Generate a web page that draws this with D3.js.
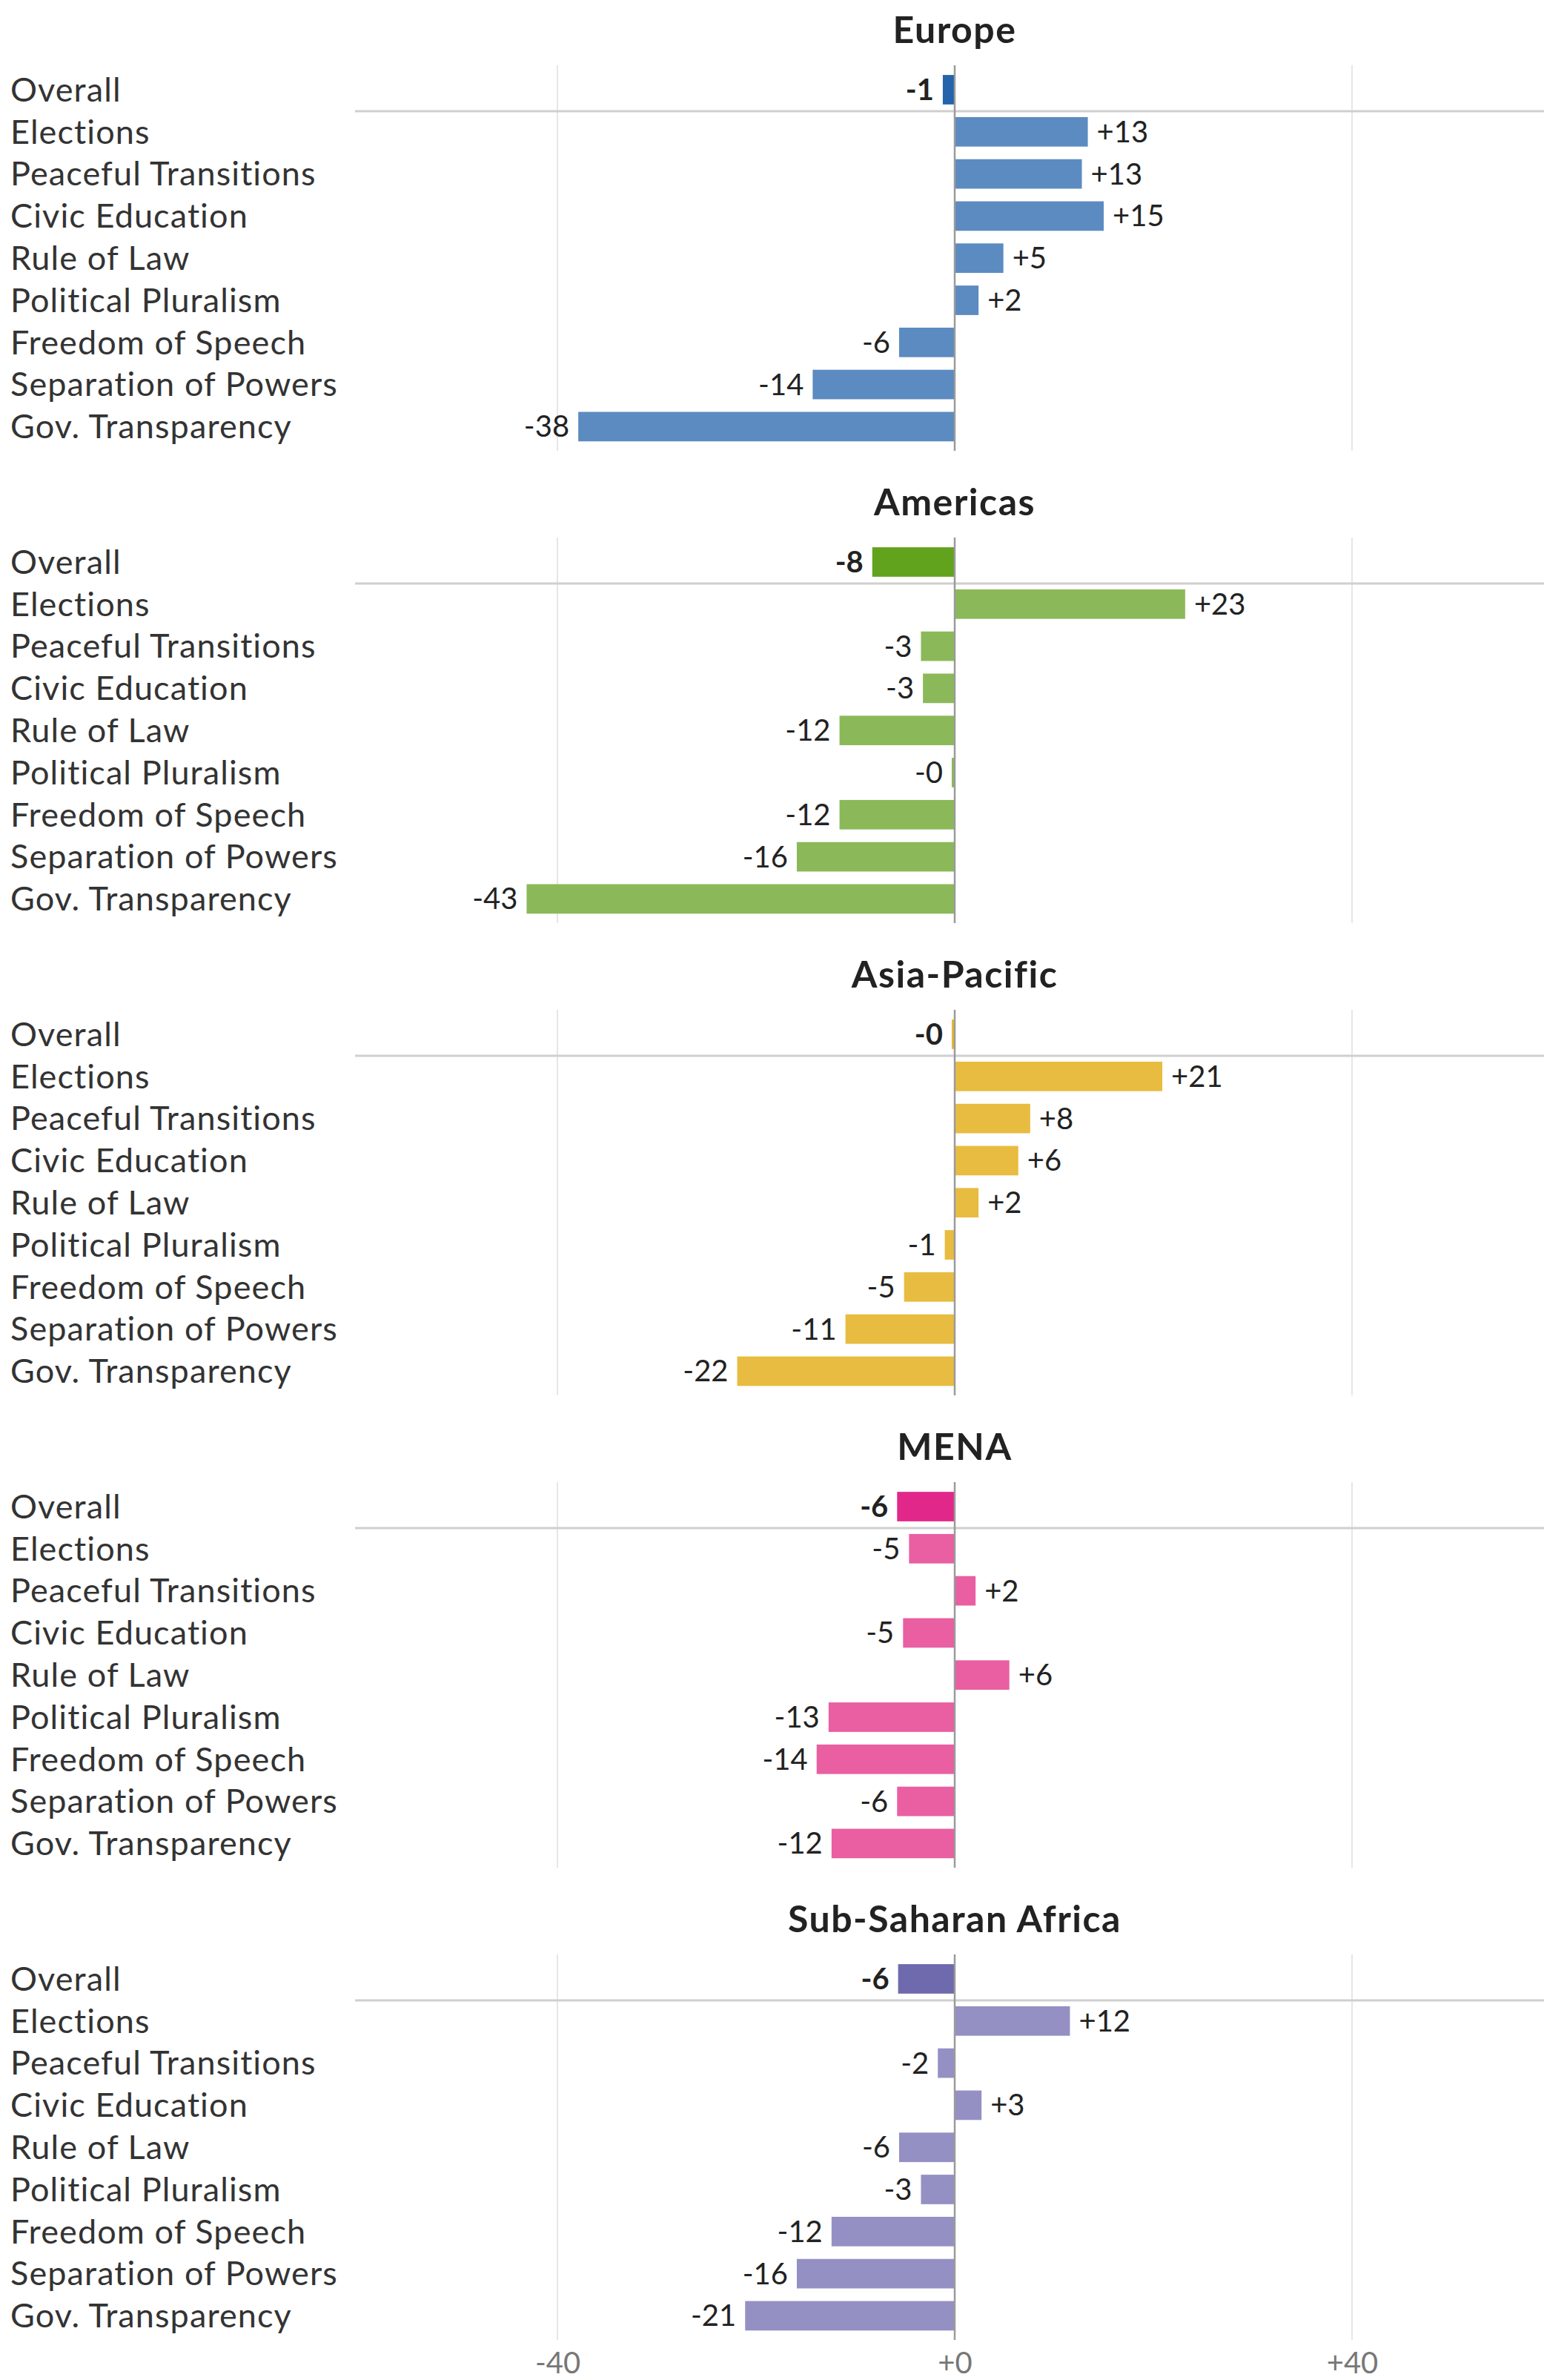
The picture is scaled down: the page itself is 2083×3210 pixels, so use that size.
<!DOCTYPE html>
<html>
<head>
<meta charset="utf-8">
<script src="https://cdn.jsdelivr.net/npm/d3@7"></script>
<style>
  html, body { margin: 0; padding: 0; background: #fff; }
  svg { display: block; font-family: Lato, "Open Sans", sans-serif; }
</style>
</head>
<body>
<svg id="chart" width="2083" height="3210"></svg>
<script>
const categories = ["Overall", "Elections", "Peaceful Transitions", "Civic Education", "Rule of Law",
  "Political Pluralism", "Freedom of Speech", "Separation of Powers", "Gov. Transparency"];
const regions = ["Europe", "Americas", "Asia-Pacific", "MENA", "Sub-Saharan Africa"];
const europe      = [-1.2, 13.4, 12.8, 15.0, 4.9, 2.4, -5.6, -14.3, -37.9];
const americas    = [-8.3, 23.2, -3.4, -3.2, -11.6, -0.3, -11.6, -15.9, -43.1];
const asiaPacific = [-0.3, 20.9, 7.6, 6.4, 2.4, -1.0, -5.1, -11.0, -21.9];
const mena        = [-5.8, -4.6, 2.1, -5.2, 5.5, -12.7, -13.9, -5.8, -12.4];
const ssa         = [-5.7, 11.6, -1.7, 2.7, -5.6, -3.4, -12.4, -15.9, -21.1];
const seriesValues = [europe, americas, asiaPacific, mena, ssa];
const barColors     = ["#5b8bc0", "#8bb959", "#e8bc40", "#e95fa1", "#9490c4"];
const overallColors = ["#2563ad", "#62a31e", "#e8b732", "#e1288a", "#6f6aae"];
const tickValues = [-40, 0, 40];
const tickLabels = ["-40", "+0", "+40"];

const svg = d3.select("#chart");
const panelH = 637;
const x = d3.scaleLinear().domain([-40, 40]).range([752, 1824]);
const fmt = v => (v < 0 ? "-" : "+") + Math.abs(Math.round(v));

regions.forEach((region, i) => {
  const g = svg.append("g").attr("transform", `translate(0,${i * panelH})`);
  const y = d3.scaleBand().domain(categories).range([92.6, 603.8])
    .paddingInner(0.3).paddingOuter(0.15);
  const vals = seriesValues[i];

  // gridlines
  g.selectAll("line.grid").data(tickValues.filter(t => t !== 0)).join("line")
    .attr("x1", d => x(d)).attr("x2", d => x(d))
    .attr("y1", 88).attr("y2", 608)
    .attr("stroke", "#e6e6e6").attr("stroke-width", 2);

  // separator under Overall
  g.append("line")
    .attr("x1", 479).attr("x2", 2083)
    .attr("y1", 150).attr("y2", 150)
    .attr("stroke", "#cfcfcf").attr("stroke-width", 3);

  // title
  g.append("text").text(region)
    .attr("x", x(0)).attr("y", 40).attr("dy", "0.35em")
    .attr("text-anchor", "middle")
    .attr("font-size", 50).attr("font-weight", 700).attr("fill", "#222")
    .attr("letter-spacing", 1.5);

  // category labels
  g.selectAll("text.cat").data(categories).join("text")
    .attr("class", "cat")
    .attr("x", 14).attr("y", d => y(d) + y.bandwidth() / 2).attr("dy", "0.35em")
    .attr("font-size", 45).attr("fill", "#333").attr("letter-spacing", 1.1)
    .text(d => d);

  const data = categories.map((c, k) => ({ c, v: vals[k], k }));

  // bars
  g.selectAll("rect.bar").data(data).join("rect")
    .attr("class", "bar")
    .attr("x", d => Math.min(x(d.v), x(0)))
    .attr("width", d => Math.abs(x(d.v) - x(0)))
    .attr("y", d => y(d.c)).attr("height", y.bandwidth())
    .attr("fill", d => d.k === 0 ? overallColors[i] : barColors[i]);

  // value labels
  g.selectAll("text.val").data(data).join("text")
    .attr("class", "val")
    .attr("x", d => d.v < 0 ? x(d.v) - 12 : x(d.v) + 12)
    .attr("y", d => y(d.c) + y.bandwidth() / 2).attr("dy", "0.35em")
    .attr("text-anchor", d => d.v < 0 ? "end" : "start")
    .attr("font-size", 40)
    .attr("font-weight", d => d.k === 0 ? 700 : 400)
    .attr("fill", "#222")
    .text(d => fmt(d.v));

  // zero line
  g.append("line")
    .attr("x1", x(0)).attr("x2", x(0))
    .attr("y1", 88).attr("y2", 608)
    .attr("stroke", "#9a9a9a").attr("stroke-width", 2.5);
});

// bottom axis
const axis = d3.axisBottom(x).tickValues(tickValues)
  .tickFormat((d, k) => tickLabels[k]).tickSize(0).tickPadding(0);
const ax = svg.append("g").attr("transform", "translate(0,3188)").call(axis);
ax.select(".domain").remove();
ax.selectAll("text").attr("font-size", 40).attr("fill", "#777").attr("dy", "0.33em")
  .attr("font-family", "Lato, 'Open Sans', sans-serif");
</script>
</body>
</html>
